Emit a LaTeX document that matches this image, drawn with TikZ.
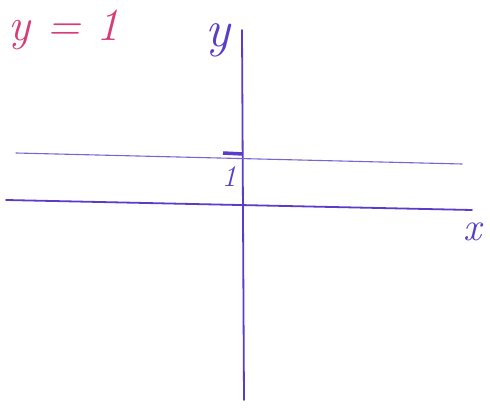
\documentclass[tikz,border=0pt]{standalone}
\usepackage{fontspec}
\begin{document}
\begin{tikzpicture}[x=1pt,y=-1pt,
  ink/.style={draw=penblue, line width=1.8pt, line cap=round},
  thin ink/.style={draw=penblue!80, line width=1.1pt, line cap=round},
  lbl/.style={text=penblue, inner sep=0pt},
  title/.style={text=penpink, inner sep=0pt}]
\definecolor{penblue}{HTML}{5A3CC8}
\definecolor{penpink}{HTML}{D63C78}
\useasboundingbox (0,0) rectangle (490,414);
% axes
\coordinate (yb) at (244,400);
\coordinate (yt) at (242,30);
\coordinate (xl) at (6,200);
\coordinate (xr) at (472,210);
\draw[ink] (yb) -- (yt);
\draw[ink] (xl) -- (xr);
% line y = 1
\coordinate (ll) at (16,153);
\coordinate (lr) at (462,164);
\draw[thin ink] (ll) -- (lr);
% tick
\coordinate (t1) at (223,153);
\coordinate (t2) at (243,154);
\draw[draw=penblue, line width=3.5pt] (t1) -- (t2);
% labels
\node[lbl, font=\itshape\fontsize{30}{30}\selectfont] (one) at (229,177) {1};
\node[lbl, font=\itshape\fontsize{40}{40}\selectfont] (xlab) at (472,232) {x};
\node[lbl, font=\itshape\fontsize{52}{52}\selectfont] (ylab) at (218,40) {y};
\node[title, font=\itshape\fontsize{46}{46}\selectfont] (eq) at (64,30) {y = 1};
\end{tikzpicture}
\end{document}
